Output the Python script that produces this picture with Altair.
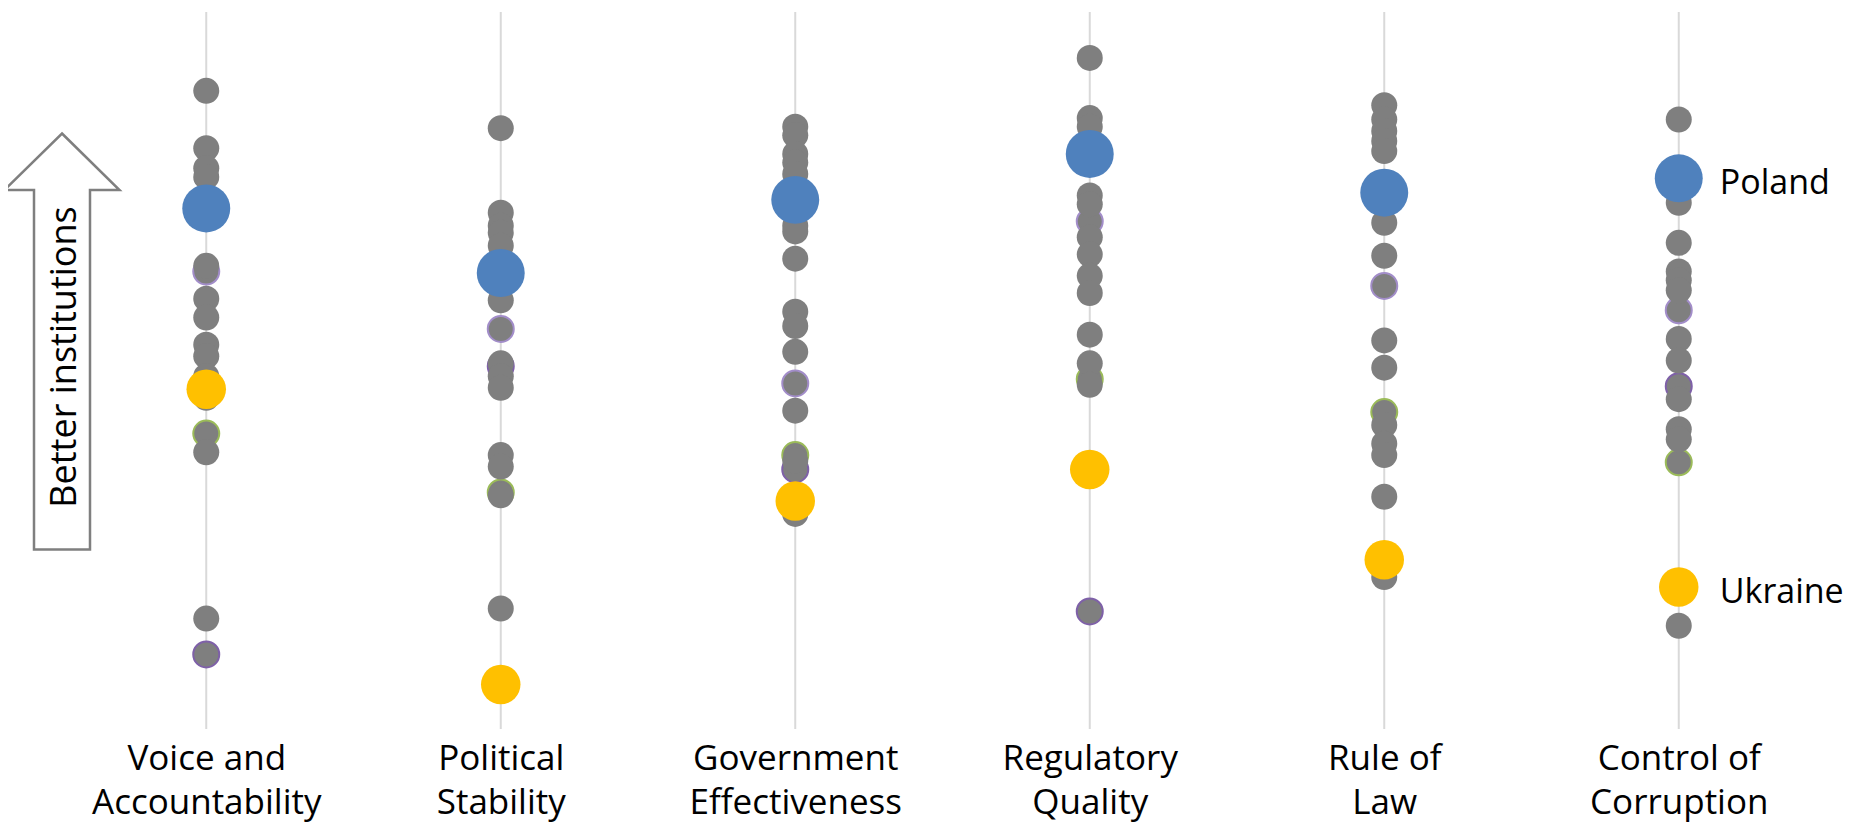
import altair as alt
import pandas as pd

# Indicator categories ("|" marks the line break of the axis label)
categories = ["Voice and|Accountability", "Political|Stability", "Government|Effectiveness",
              "Regulatory|Quality", "Rule of|Law", "Control of|Corruption"]

# Other countries (grey dots), one list per indicator
others_voice = [1.95, 1.55, 1.41, 1.35, 0.73, 0.50, 0.37, 0.18, 0.10, -0.04, -0.19, -0.57, -1.73]
others_stability = [1.69, 1.10, 1.01, 0.96, 0.87, 0.49, 0.05, -0.04, -0.12, -0.59, -0.67, -0.87, -1.66]
others_effectiveness = [1.70, 1.64, 1.51, 1.45, 1.37, 1.01, 0.97, 0.78, 0.41, 0.31, 0.13, -0.28, -0.63, -1.00]
others_regulatory = [2.18, 1.76, 1.70, 1.22, 1.16, 0.93, 0.81, 0.66, 0.54, 0.25, 0.05, -0.10]
others_law = [1.85, 1.75, 1.67, 1.60, 1.53, 1.03, 0.80, 0.21, 0.02, -0.38, -0.51, -0.59, -0.88, -1.44]
others_corruption = [1.75, 1.17, 0.89, 0.69, 0.63, 0.56, 0.22, 0.07, -0.20, -0.41, -0.48, -1.78]

# Grey dots with a coloured outline (three further countries)
outline_a = [0.69, 0.29, -0.09, 1.04, 0.59, 0.42]
outline_b = [-1.98, 0.03, -0.69, -1.68, None, -0.11]
outline_c = [-0.44, -0.85, -0.59, -0.06, -0.29, -0.64]

# Highlighted countries
poland = [1.13, 0.68, 1.19, 1.51, 1.24, 1.34]
ukraine = [-0.13, -2.19, -0.91, -0.69, -1.32, -1.51]

axis_title = "Better institutions"

# ---- tables built from the lists ----
others_lists = [others_voice, others_stability, others_effectiveness,
                others_regulatory, others_law, others_corruption]
rows = []
for cat, vals in zip(categories, others_lists):
    for v in vals:
        rows.append({"indicator": cat, "value": v})
df_others = pd.DataFrame(rows)

rows = []
for name, vals in [("A", outline_a), ("B", outline_b), ("C", outline_c)]:
    for cat, v in zip(categories, vals):
        if v is not None:
            rows.append({"indicator": cat, "value": v, "series": name})
df_outline = pd.DataFrame(rows)

df_poland = pd.DataFrame({"indicator": categories, "value": poland})
df_ukraine = pd.DataFrame({"indicator": categories, "value": ukraine})
df_cats = pd.DataFrame({"indicator": categories})
df_legend = pd.DataFrame({"indicator": [categories[-1]] * 2,
                          "value": [poland[-1], ukraine[-1]],
                          "country": ["Poland", "Ukraine"]})
df_title = pd.DataFrame({"label": [axis_title]})

FONT = "Open Sans"
GREY = "#7f7f7f"

x_enc = alt.X("indicator:N", sort=categories,
              scale=alt.Scale(type="point", padding=0.5, domain=categories),
              axis=alt.Axis(title=None, domain=False, ticks=False, grid=False,
                            labelAngle=0, labelFont=FONT, labelFontSize=35,
                            labelColor="black", labelPadding=12, labelLimit=500,
                            labelBaseline="top", labelLineHeight=44,
                            labelExpr="split(datum.label, '|')"))
y_enc = alt.Y("value:Q", scale=alt.Scale(domain=[-2.5, 2.5], nice=False, zero=False), axis=None)

rules = alt.Chart(df_cats).mark_rule(color="#d9d9d9", strokeWidth=2).encode(x=x_enc)

outlined = alt.Chart(df_outline).mark_circle(size=676, opacity=1, fill=GREY, strokeWidth=2).encode(
    x=x_enc, y=y_enc,
    stroke=alt.Stroke("series:N", legend=None,
                      scale=alt.Scale(domain=["A", "B", "C"],
                                      range=["#a28dc9", "#7e60a8", "#9bbb59"])))

greys = alt.Chart(df_others).mark_circle(size=676, opacity=1, color=GREY).encode(x=x_enc, y=y_enc)

ukr = alt.Chart(df_ukraine).mark_circle(size=1560, opacity=1, color="#ffc000").encode(x=x_enc, y=y_enc)
pol = alt.Chart(df_poland).mark_circle(size=2300, opacity=1, color="#4f81bd").encode(x=x_enc, y=y_enc)

legend_text = alt.Chart(df_legend).mark_text(
    align="left", baseline="middle", dx=41, dy=6, fontSize=34, font=FONT, color="black"
).encode(x=x_enc, y=y_enc, text="country:N")

arrow_path = ("M 0 -1 L 0.2764 -0.7284 L 0.1346 -0.7284 L 0.1346 1 L -0.1346 1 "
              "L -0.1346 -0.7284 L -0.2764 -0.7284 Z")
arrow = alt.Chart(df_title).mark_point(
    shape=arrow_path, size=416 * 416, filled=True, fill="white", stroke=GREY,
    strokeWidth=2.5, opacity=1
).encode(x=alt.value(3), y=alt.value(329.5))

title_text = alt.Chart(df_title).mark_text(
    angle=270, align="center", baseline="middle", fontSize=36, font=FONT, color="black"
).encode(x=alt.value(6), y=alt.value(345), text="label:N")

chart = alt.layer(rules, outlined, greys, ukr, pol, legend_text, arrow, title_text).properties(
    width=1767, height=717,
    padding={"left": 51, "right": 22, "top": 4, "bottom": 95},
    autosize=alt.AutoSizeParams(type="none"),
    background="white",
).configure_view(stroke=None)

chart.save("out.html", embed_options={"renderer": "svg", "actions": False})
